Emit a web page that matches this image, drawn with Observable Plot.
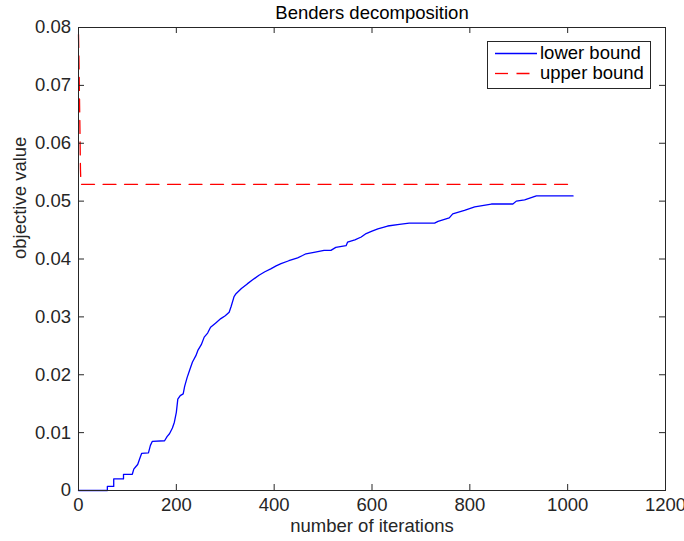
<!DOCTYPE html>
<html><head><meta charset="utf-8">
<script src="https://cdn.jsdelivr.net/npm/d3@7"></script>
<script src="https://cdn.jsdelivr.net/npm/@observablehq/plot@0.6"></script>
<style>
html,body{margin:0;padding:0;background:#fff;}
#chart{position:relative;width:684px;height:541px;font-family:"Liberation Sans",Arial,sans-serif;}
#legend{position:absolute;left:487px;top:41px;}
</style></head><body><div id="chart"></div>
<script>
const title = "Benders decomposition";
const xLabel = "number of iterations";
const yLabel = "objective value";
const xTicks = [0, 200, 400, 600, 800, 1000, 1200];
const yTicks = [0, 0.01, 0.02, 0.03, 0.04, 0.05, 0.06, 0.07, 0.08];
const yTickLabels = ["0", "0.01", "0.02", "0.03", "0.04", "0.05", "0.06", "0.07", "0.08"];
const seriesNames = ["lower bound", "upper bound"];
const seriesColors = ["#0000ff", "#ff0000"];

const lowerIter = [0,59,59,72,72,92,92,110,113,117,121,126,129,143,147,151,176,181,186,192,196,200,203,208,214,217,222,228,233,240,244,251,257,264,270,280,291,300,308,312,318,322,333,345,356,369,381,393,404,414,430,448,458,465,484,502,516,526,547,550,565,578,588,600,612,632,656,676,728,735,758,765,789,810,844,888,895,912,936,1011];
const lowerValue = [0,0,0.0007,0.0007,0.002,0.002,0.0028,0.0028,0.0037,0.0041,0.0045,0.0057,0.0064,0.0065,0.0078,0.0085,0.0086,0.0093,0.0098,0.0108,0.0118,0.0135,0.0158,0.0164,0.0167,0.018,0.0195,0.021,0.0222,0.0233,0.0242,0.0252,0.0265,0.0272,0.0282,0.0289,0.0297,0.0302,0.0308,0.0318,0.0335,0.034,0.0349,0.0357,0.0364,0.0372,0.0378,0.0383,0.0388,0.0392,0.0397,0.0402,0.0406,0.0409,0.0412,0.0415,0.0415,0.042,0.0423,0.0429,0.0433,0.0438,0.0444,0.0448,0.0452,0.0457,0.046,0.0462,0.0462,0.0465,0.0471,0.0478,0.0484,0.049,0.0495,0.0495,0.05,0.0502,0.0509,0.0509];
const upperIter = [0, 1, 2, 3, 4, 5, 1011];
const upperValue = [0.0788, 0.074, 0.068, 0.062, 0.0555, 0.0529, 0.0529];

const lowerData = lowerIter.map((x, i) => ({iter: x, value: lowerValue[i]}));
const upperData = upperIter.map((x, i) => ({iter: x, value: upperValue[i]}));

const W = 684, H = 541, mL = 78, mR = 19, mT = 27, mB = 51;
const innerW = W - mL - mR, innerH = H - mT - mB, tickLen = 6;
const ink = "#262626";
const font = "'Liberation Sans', Arial, sans-serif";
const fs = 18.5;

const plot = Plot.plot({
  width: W, height: H,
  marginLeft: mL, marginRight: mR, marginTop: mT, marginBottom: mB,
  style: {fontFamily: font, fontSize: fs + "px", color: ink, background: "white"},
  x: {domain: [0, 1200]},
  y: {domain: [0, 0.08]},
  marks: [
    Plot.line(lowerData, {x: "iter", y: "value", stroke: seriesColors[0], strokeWidth: 1.3}),
    Plot.line(upperData, {x: "iter", y: "value", stroke: seriesColors[1], strokeWidth: 1.3, strokeDasharray: "13,8.5"}),
    Plot.frame({stroke: ink, strokeWidth: 1}),
    Plot.tickY(yTicks, {y: d => d, stroke: ink, insetRight: innerW - tickLen}),
    Plot.tickY(yTicks, {y: d => d, stroke: ink, insetLeft: innerW - tickLen}),
    Plot.tickX(xTicks, {x: d => d, stroke: ink, insetTop: innerH - tickLen}),
    Plot.tickX(xTicks, {x: d => d, stroke: ink, insetBottom: innerH - tickLen}),
    Plot.axisX(xTicks, {tickSize: 0, tickPadding: 7, tickFormat: d => String(d), label: null, fontSize: fs, fill: ink}),
    Plot.axisY(yTicks, {tickSize: 0, tickPadding: 7.5, tickFormat: d => yTickLabels[yTicks.indexOf(d)], label: null, fontSize: fs, fill: ink}),
    Plot.text([title], {frameAnchor: "top", lineAnchor: "bottom", dy: -9, fontSize: fs, fill: "#000"}),
    Plot.text([xLabel], {frameAnchor: "bottom", lineAnchor: "bottom", dy: 41, fontSize: fs, fill: ink}),
    Plot.text([yLabel], {frameAnchor: "left", rotate: -90, dx: -58, fontSize: fs, fill: ink})
  ]
});
const chart = document.getElementById("chart");
chart.appendChild(plot);

// legend
const leg = d3.select(chart).append("svg").attr("id", "legend")
  .attr("width", 164).attr("height", 48)
  .style("font-family", font).style("font-size", fs + "px");
leg.append("rect").attr("x", 0.5).attr("y", 0.5).attr("width", 163).attr("height", 47)
  .attr("fill", "white").attr("stroke", ink);
seriesNames.forEach((name, i) => {
  const cy = 12.5 + i * 20;
  leg.append("line").attr("x1", 8).attr("x2", 50).attr("y1", cy).attr("y2", cy)
    .attr("stroke", seriesColors[i]).attr("stroke-width", 1.3)
    .attr("stroke-dasharray", i === 1 ? "13,8.5" : null);
  leg.append("text").attr("x", 53).attr("y", cy + 5).attr("fill", "#000").text(name);
});
</script></body></html>
